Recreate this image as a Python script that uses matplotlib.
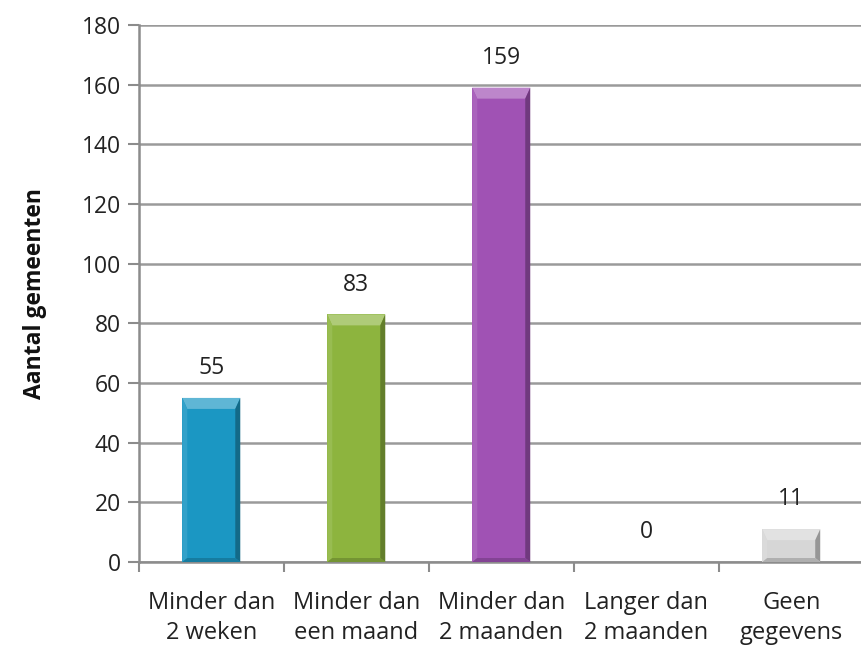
import matplotlib.pyplot as plt
from matplotlib.patches import Polygon
from matplotlib.colors import to_rgb

categories = ["Minder dan\n2 weken", "Minder dan\neen maand", "Minder dan\n2 maanden",
              "Langer dan\n2 maanden", "Geen\ngegevens"]
values = [55, 83, 159, 0, 11]
colors = ["#1B97C3", "#8DB43E", "#A052B4", "#4F81BD", "#D6D6D6"]
y_ticks = [0, 20, 40, 60, 80, 100, 120, 140, 160, 180]

plt.rcParams['font.family'] = ['Open Sans', 'DejaVu Sans']


def shade(c, f):
    r, g, b = to_rgb(c)
    if f > 0:
        return (r + (1 - r) * f, g + (1 - g) * f, b + (1 - b) * f)
    return (r * (1 + f), g * (1 + f), b * (1 + f))


fig = plt.figure(figsize=(8.62, 6.51), dpi=100)
ax = fig.add_axes([0.161, 0.1367, 0.841, 0.8249])

x = list(range(len(categories)))
bars = ax.bar(x, values, width=0.4, color=colors, zorder=3)

ax.set_xlim(-0.5, 4.5)
ax.set_ylim(0, 180)

# pixel -> data conversion for the bevel edges
fig.canvas.draw()
bb = ax.get_window_extent()
px_x = 5 / bb.width
px_y = 180 / bb.height

for bar, col, v in zip(bars, colors, values):
    if v <= 0:
        continue
    x0 = bar.get_x()
    x1 = x0 + bar.get_width()
    y0, y1 = 0, v
    s = 5 * px_x
    t = min(11 * px_y, v / 3)
    b = min(4 * px_y, v / 4)
    # top, left, right, bottom bevel faces
    ax.add_patch(Polygon([(x0, y1), (x1, y1), (x1 - s, y1 - t), (x0 + s, y1 - t)],
                         closed=True, color=shade(col, 0.3), lw=0, zorder=4))
    ax.add_patch(Polygon([(x0, y0), (x0, y1), (x0 + s, y1 - t), (x0 + s, y0 + b)],
                         closed=True, color=shade(col, 0.1), lw=0, zorder=4))
    ax.add_patch(Polygon([(x1, y0), (x1, y1), (x1 - s, y1 - t), (x1 - s, y0 + b)],
                         closed=True, color=shade(col, -0.3), lw=0, zorder=4))
    ax.add_patch(Polygon([(x0, y0), (x1, y0), (x1 - s, y0 + b), (x0 + s, y0 + b)],
                         closed=True, color=shade(col, -0.18), lw=0, zorder=4))

for xi, v in zip(x, values):
    ax.text(xi, v + 10, str(v), ha='center', va='center', fontsize=16.5, color='#222222')

ax.set_yticks(y_ticks)
ax.tick_params(axis='y', length=8, width=1.5, color='#8C8C8C', labelsize=16.5,
               labelcolor='#222222', pad=5)
ax.set_xticks(x)
ax.set_xticklabels(categories, fontsize=17, color='#222222', linespacing=1.3)
ax.set_xticks([-0.5, 0.5, 1.5, 2.5, 3.5, 4.5], minor=True)
ax.tick_params(axis='x', which='major', length=0, pad=21)
ax.tick_params(axis='x', which='minor', length=7, width=1.5, color='#8C8C8C')

ax.grid(axis='y', color='#9A9A9A', linewidth=1.8, zorder=0)
ax.set_axisbelow(True)
for side in ['top', 'right']:
    ax.spines[side].set_visible(False)
for side in ['left', 'bottom']:
    ax.spines[side].set_color('#8C8C8C')
    ax.spines[side].set_linewidth(1.8)

ax.set_ylabel("Aantal gemeenten", fontsize=16.5, fontweight='bold', color='#111111')
ax.yaxis.set_label_coords(-0.126, 0.5)

fig.savefig("out.png", dpi=100)
